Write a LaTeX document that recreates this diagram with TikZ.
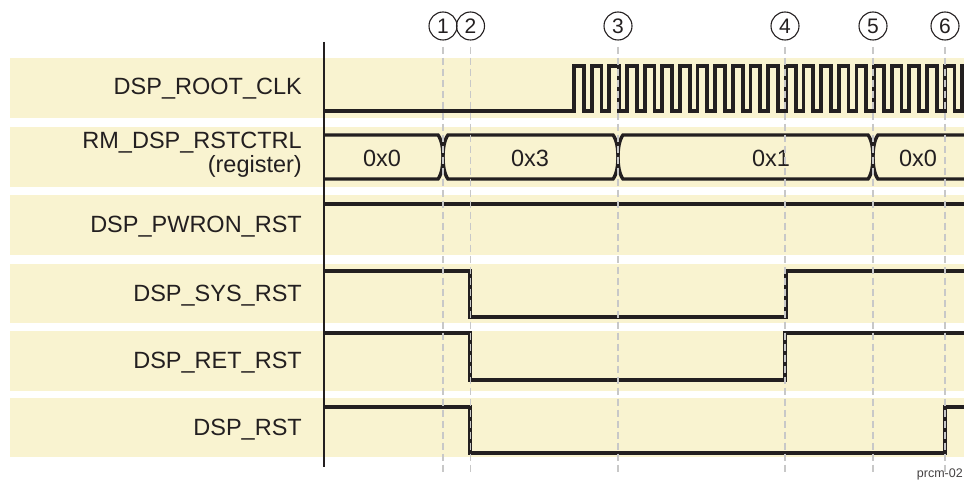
\documentclass[tikz,border=0pt]{standalone}
\usepackage{fontspec}
\setmainfont{Liberation Sans}
\definecolor{band}{RGB}{249,243,208}
\definecolor{ink}{RGB}{35,31,32}
\definecolor{guide}{RGB}{200,200,200}
\begin{document}
\begin{tikzpicture}[x=1pt,y=-1pt,
  bandbox/.style={fill=band,draw=none,minimum width=954pt,minimum height=60pt,anchor=north west,inner sep=0},
  sig/.style={draw=ink,line width=3.4pt,line join=miter},
  clk/.style={draw=ink,line width=3.8pt,line join=miter},
  lbl/.style={text=ink,font=\fontsize{23.5}{24}\selectfont,align=right,inner sep=0},
  val/.style={text=ink,font=\fontsize{23.5}{24}\selectfont,inner sep=0,anchor=base},
  marker/.style={circle,draw=ink,line width=1.1pt,minimum size=28pt,inner sep=0,text=ink,font=\fontsize{21}{21}\selectfont},
  guideline/.style={draw=guide,line width=1.6pt,dash pattern=on 7pt off 4pt,shorten <=6pt},
]
\useasboundingbox (0,0) rectangle (964,481);
% bands
\node[bandbox] (b1) at (10,58) {};
\node[bandbox] (b2) at (10,127) {};
\node[bandbox] (b3) at (10,195) {};
\node[bandbox,minimum height=59pt] (b4) at (10,264) {};
\node[bandbox] (b5) at (10,331) {};
\node[bandbox,minimum height=59pt] (b6) at (10,398) {};
% labels
\node[lbl,anchor=base east] (l1) at (302,95) {DSP\_ROOT\_CLK};
\node[lbl,anchor=east] (l2) at (302,154.4) {RM\_DSP\_RSTCTRL\\(register)};
\node[lbl,anchor=base east] (l3) at (302,233) {DSP\_PWRON\_RST};
\node[lbl,anchor=base east] (l4) at (302,301) {DSP\_SYS\_RST};
\node[lbl,anchor=base east] (l5) at (302,368) {DSP\_RET\_RST};
\node[lbl,anchor=base east] (l6) at (302,435) {DSP\_RST};
% axis
\coordinate (axtop) at (324,42);
\coordinate (axbot) at (324,467);
\draw[ink,line width=1.8pt] (axtop) -- (axbot);
% clock
\draw[clk] (324,111) foreach \k in {0,...,21} {
  -- ({574+\k*17.65},111) -- ({574+\k*17.65},66) -- ({574+\k*17.65+9.8},66) -- ({574+\k*17.65+9.8},111) }
  -- ({574+22*17.65},111) -- ({574+22*17.65},66) -- (970,66);
% register bus
\draw[sig] (324,135) -- (438,135) .. controls (442,140) and (443,150) .. (443,157)
  .. controls (443,164) and (442,174) .. (438,179) -- (324,179);
\draw[sig] (448,135) -- (613,135) .. controls (617,140) and (618,150) .. (618,157)
  .. controls (618,164) and (617,174) .. (613,179) -- (448,179)
  .. controls (444,174) and (443,164) .. (443,157) .. controls (443,150) and (444,140) .. cycle;
\draw[sig] (623,135) -- (868,135) .. controls (872,140) and (873,150) .. (873,157)
  .. controls (873,164) and (872,174) .. (868,179) -- (623,179)
  .. controls (619,174) and (618,164) .. (618,157) .. controls (618,150) and (619,140) .. cycle;
\draw[sig] (970,135) -- (878,135) .. controls (874,140) and (873,150) .. (873,157)
  .. controls (873,164) and (874,174) .. (878,179) -- (970,179);
\node[val] (v0) at (382,166.5) {0x0};
\node[val] (v3) at (530,166.5) {0x3};
\node[val] (v1) at (771,166.5) {0x1};
\node[val] (v0b) at (918,166.5) {0x0};
% resets
\draw[sig] (324,204) -- (970,204);
\draw[sig] (324,271) -- (470,271) -- (470,317) -- (786,317) -- (786,271) -- (970,271);
\draw[sig] (324,333) -- (470,333) -- (470,380) -- (785,380) -- (785,333) -- (970,333);
\draw[sig] (324,407) -- (470,407) -- (470,453) -- (945,453) -- (945,407) -- (970,407);
% markers and guides
\foreach \n/\x in {1/443,2/470.5,3/618,4/785,5/873,6/945} {
  \node[marker] (m\n) at (\x,26) {\n};
  \coordinate (g\n) at (\x,472);
  \draw[guideline] (m\n.south) -- (g\n);
}
\node[text=ink!85,font=\fontsize{12.5}{12.5}\selectfont,anchor=base east,inner sep=0] (tag) at (963,477) {prcm-02};
\end{tikzpicture}
\end{document}
